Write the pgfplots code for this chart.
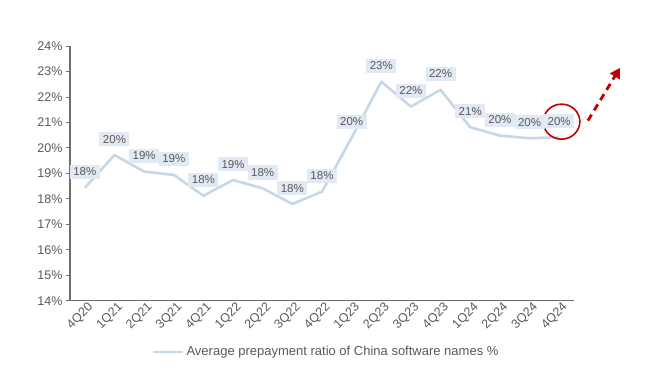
\documentclass[border=0pt]{standalone}
\usepackage{pgfplots}
\pgfplotsset{compat=1.18}
\usepackage{fontspec}
\setmainfont{Liberation Sans}
\usetikzlibrary{arrows.meta}
\definecolor{lineblue}{HTML}{C5D8EA}
\definecolor{labelfill}{HTML}{E1EAF4}
\definecolor{txtgray}{HTML}{595959}
\definecolor{axgray}{HTML}{6E6E6E}
\definecolor{darkred}{HTML}{C00000}
\begin{document}
\begin{tikzpicture}
\path[use as bounding box] (-70bp,-71.3bp) rectangle (580bp,300.7bp);
\begin{axis}[
  at={(0,0)}, anchor=south west,
  scale only axis, width=504bp, height=254.7bp,
  xmin=-0.5, xmax=16.5, ymin=14, ymax=24,
  axis lines*=left,
  axis line style={axgray, line width=1.2pt},
  xtick={0,...,16},
  xticklabels={4Q20,1Q21,2Q21,3Q21,4Q21,1Q22,2Q22,3Q22,4Q22,1Q23,2Q23,3Q23,4Q23,1Q24,2Q24,3Q24,4Q24},
  x tick style={draw=none},
  xticklabel style={rotate=45, anchor=east, font=\fontsize{12.5bp}{14bp}\selectfont, text=txtgray, xshift=5bp, yshift=-5bp, inner sep=1bp},
  ytick={14,15,...,24},
  yticklabel={\pgfmathprintnumber{\tick}\%},
  yticklabel style={font=\fontsize{12.5bp}{14bp}\selectfont, text=txtgray},
  /pgf/number format/assume math mode=true,
  y tick style={axgray, line width=0.8pt},
  tick align=outside, major tick length=4bp,
  clip=false,
  legend style={at={(0.508,-0.2014)}, anchor=center, draw=none, fill=none,
    font=\fontsize{13bp}{15bp}\selectfont, text=txtgray},
  legend image code/.code={\draw[#1, line width=3pt] (0bp,0bp) -- (30bp,0bp);},
  legend cell align=left,
]
\addplot[lineblue, line width=2.6pt, line join=round,
  nodes near coords={\pgfmathprintnumber[fixed,precision=0]{\pgfplotspointmeta}\%},
  point meta=y,
  every node near coord/.append style={anchor=south, yshift=7.5bp, fill=labelfill, text=txtgray,
    inner xsep=3.5bp, inner ysep=3bp, font=\fontsize{11.5bp}{13bp}\selectfont, /pgf/number format/assume math mode=true},
] coordinates {
(0,18.43) (1,19.72) (2,19.07) (3,18.94) (4,18.12) (5,18.74) (6,18.41) (7,17.80) (8,18.28)
(9,20.40) (10,22.60) (11,21.62) (12,22.28) (13,20.81) (14,20.48) (15,20.38) (16,20.42)
};
\addlegendentry{Average prepayment ratio of China software names \%}
\draw[darkred, line width=1.6pt] (axis cs:16.08,21.03) ellipse [x radius=18.3bp, y radius=17.5bp];
\draw[darkred, line width=2.8pt, dash pattern=on 7bp off 5bp, -{Triangle[length=10bp,width=11bp]}]
  (axis cs:16.97,21.07) -- (axis cs:18.05,23.14);
\end{axis}
\end{tikzpicture}
\end{document}
